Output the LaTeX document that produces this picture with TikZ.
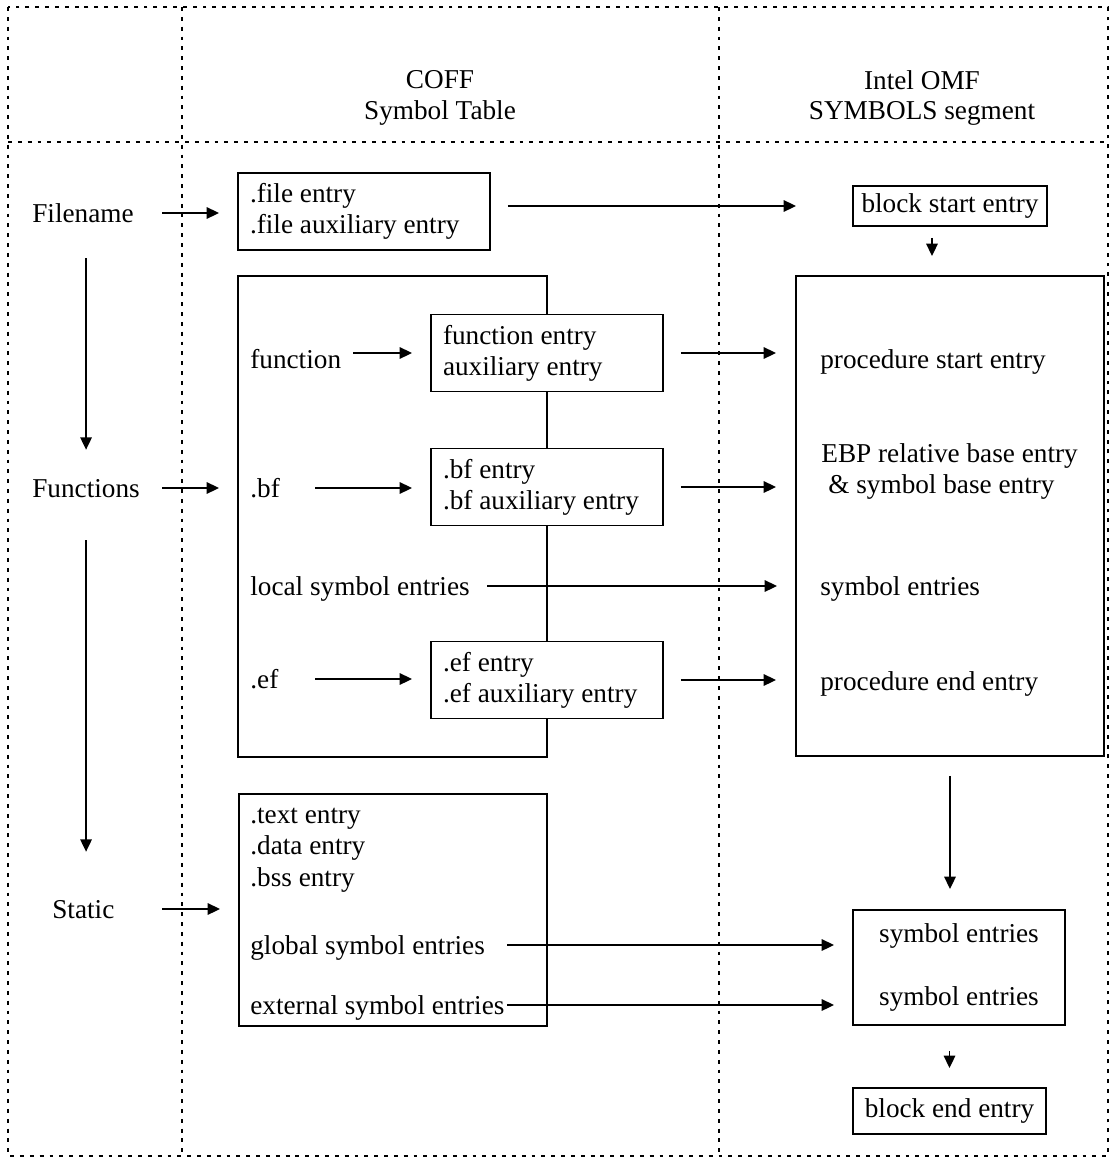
\documentclass[tikz,border=0pt]{standalone}
\usepackage{fontspec}
\setmainfont{Liberation Serif}
\usetikzlibrary{arrows.meta,positioning}
\newlength{\pxu}\setlength{\pxu}{0.02cm}

\begin{document}
\begin{tikzpicture}[x=0.02cm, y=-0.02cm, font=\fontsize{15.5}{17.6}\selectfont,
    box/.style={draw, line width=1.1pt, inner sep=0pt},
    entry/.style={box, fill=white, align=flush left, text width=208\pxu, inner xsep=12\pxu, minimum height=77\pxu},
    lbl/.style={anchor=west, inner sep=0pt, text height=11.3pt, text depth=0pt},
    arr/.style={-{Triangle[length=7pt,width=6.5pt]}, line width=0.9pt},
    rule/.style={line width=1.4pt, dash pattern=on 2.2pt off 3.4pt}]

    \useasboundingbox (0,0) rectangle (1114,1159);

    % frame and columns
    \draw[rule] (8,7) rectangle (1108,1156);
    \draw[rule] (182,7) -- (182,1156);
    \draw[rule] (719,7) -- (719,1156);
    \draw[rule] (8,142) -- (1108,142);

    \node[align=center] (coff) at (440,98) {COFF\\Symbol Table};
    \node[align=center] (omfh) at (922,98) {Intel OMF\\SYMBOLS segment};

    % left column
    \node[lbl] (fname) at (32,213) {Filename};
    \node[lbl] (funcs) at (32,488) {Functions};
    \node[lbl] (stat) at (52,909) {Static};

    % COFF symbol table
    \node[box, align=flush left, text width=228\pxu, inner xsep=12\pxu, minimum height=77\pxu] (fbox) at (364,211.5) {.file entry\\.file auxiliary entry};
    \node[box, minimum width=309\pxu, minimum height=481\pxu] (cfn) at (392.5,516.5) {};
    \node[lbl] (fnl) at (250,359) {function};
    \node[lbl] (bfl) at (250,488) {.bf};
    \node[lbl] (locl) at (250,586) {local symbol entries};
    \node[lbl] (efl) at (250,679) {.ef};
    \node[entry] (fnbox) at (547,353) {function entry\\auxiliary entry};
    \node[entry] (bfbox) at (547,487) {.bf entry\\.bf auxiliary entry};
    \node[entry] (efbox) at (547,680) {.ef entry\\.ef auxiliary entry};

    \node[box, minimum width=308\pxu, minimum height=232\pxu] (sbox) at (393,910) {};
    \foreach \n/\t/\y in {txt/.text entry/814, dat/.data entry/845, bss/.bss entry/877,
                          glob/global symbol entries/945, ext/external symbol entries/1005}{
        \node[lbl] (\n) at (250,\y) {\t};
    }

    % OMF symbols segment
    \node[box, minimum width=194\pxu, minimum height=40\pxu] (bstart) at (950,206) {block start entry};
    \node[box, minimum width=308\pxu, minimum height=480\pxu] (omf) at (950,516) {};
    \node[lbl] (pstart) at (820,359) {procedure start entry};
    \node[lbl] (ebp) at (821,453) {EBP relative base entry};
    \node[lbl] (sbase) at (828,484) {\& symbol base entry};
    \node[lbl] (osym) at (820,586) {symbol entries};
    \node[lbl] (pend) at (820,681) {procedure end entry};
    \node[box, align=center, minimum width=212\pxu, minimum height=115\pxu] (symbox) at (959,967.5) {symbol entries\\[18pt]symbol entries};
    \node[box, minimum width=193\pxu, minimum height=46\pxu] (bend) at (949.5,1111) {block end entry};

    \coordinate (ca) at (162,0);
    \coordinate (cb) at (315,0);
    \coordinate (cc) at (507,0);

    % arrows
    \draw[arr, shorten >=18\pxu] (fname -| ca) -- (fname -| fbox.west);
    \draw[arr, shorten >=18\pxu] (funcs -| ca) -- (funcs -| cfn.west);
    \draw[arr, shorten >=18\pxu] (stat -| ca) -- (stat -| sbox.west);
    \draw[arr, shorten <=35\pxu, shorten >=28\pxu] (fname.south -| funcs.north) -- (funcs.north);
    \draw[arr, shorten <=42\pxu, shorten >=47\pxu] (funcs.south) -- (funcs.south |- stat.north);

    \draw[arr, shorten <=17\pxu, shorten >=56\pxu] (fbox.east |- bstart) -- (bstart.west);
    \draw[arr, shorten <=11\pxu, shorten >=19\pxu] ([xshift=-18\pxu]bstart.south) -- ([xshift=-18\pxu]bstart.south |- omf.north);

    \draw[arr, shorten <=12\pxu, shorten >=18\pxu] (fnl.east |- fnbox) -- (fnbox.west);
    \draw[arr, shorten >=18\pxu] (bfl -| cb) -- (bfl -| bfbox.west);
    \draw[arr, shorten >=18\pxu] (efl -| cb) -- (efl -| efbox.west);
    \foreach \b in {fnbox,bfbox,efbox}
        \draw[arr, shorten <=17\pxu, shorten >=19\pxu] (\b.east) -- (\b.east -| omf.west);
    \draw[arr, shorten <=17\pxu, shorten >=18\pxu] (locl.east) -- (locl.east -| omf.west);

    \draw[arr, shorten <=19\pxu, shorten >=20\pxu] (omf.south) -- (omf.south |- symbox.north);
    \foreach \s in {glob,ext}
        \draw[arr, shorten >=18\pxu] (\s -| cc) -- (\s -| symbox.west);
    \draw[arr, shorten <=25\pxu, shorten >=19\pxu] (bend.north |- symbox.south) -- (bend.north);

\end{tikzpicture}
\end{document}
